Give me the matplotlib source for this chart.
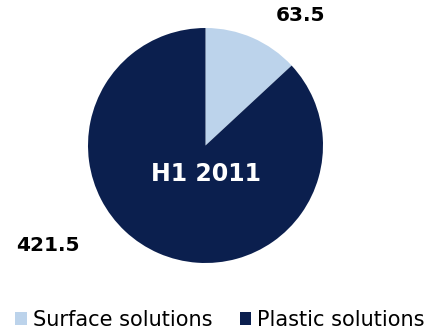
import matplotlib
matplotlib.use("Agg")
import matplotlib.pyplot as plt
from matplotlib.patches import Patch

categories = ["Surface solutions", "Plastic solutions"]
values = [63.5, 421.5]
value_labels = ["63.5", "421.5"]
center_label = "H1 2011"
colors = ["#bcd3eb", "#0b1f4e"]

W, H = 436, 331
fig = plt.figure(figsize=(W / 100, H / 100), dpi=100)
cx, cy, r = 205.5, 145.5, 117.5
ax = fig.add_axes([(cx - r) / W, (H - cy - r) / H, 2 * r / W, 2 * r / H])
ax.pie(values, colors=colors, startangle=90, counterclock=False, radius=1,
       wedgeprops=dict(linewidth=0))
ax.set_xlim(-1, 1)
ax.set_ylim(-1, 1)
ax.set_aspect("equal")
ax.axis("off")

ax.text(0.81, 1.11, value_labels[0], ha="center", va="center",
        fontsize=14.5, fontweight="bold", color="black", clip_on=False)
ax.text(-1.34, -0.85, value_labels[1], ha="center", va="center",
        fontsize=14.5, fontweight="bold", color="black", clip_on=False)
ax.text(0.0, -0.24, center_label, ha="center", va="center",
        fontsize=17, fontweight="bold", color="white")

handles = [Patch(facecolor=c, edgecolor="none") for c in colors]
fig.legend(handles, categories, loc="center", bbox_to_anchor=(220 / W, 1 - 320 / H),
           ncol=2, frameon=False, fontsize=15, handlelength=0.55, handleheight=0.55,
           handletextpad=0.3, columnspacing=1.3, borderpad=0, borderaxespad=0)

fig.savefig("out.png", dpi=100)
